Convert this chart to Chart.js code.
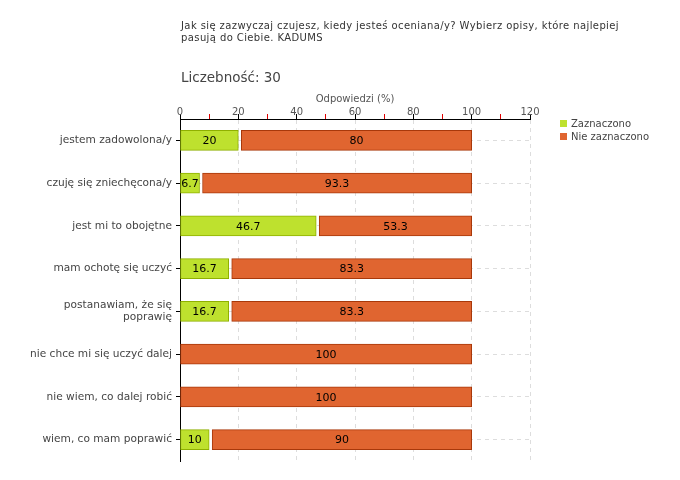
<!DOCTYPE html>
<html>
<head>
<meta charset="utf-8">
<script src="https://cdn.jsdelivr.net/npm/chart.js@4"></script>
<style>
body{margin:0;background:#fff}
#wrap{position:relative;width:680px;height:480px}
#title{position:absolute;left:181px;top:20px;width:480px;font:10px "DejaVu Sans";color:#333;line-height:12px;letter-spacing:0.4px}
#count{position:absolute;left:181px;top:69px;font:13.5px "DejaVu Sans";color:#444}
</style>
</head>
<body>
<div id="wrap">
  <canvas id="chart" width="680" height="480"></canvas>
  <div id="title">Jak się zazwyczaj czujesz, kiedy jesteś oceniana/y? Wybierz opisy, które najlepiej<br>pasują do Ciebie. KADUMS</div>
  <div id="count">Liczebność: 30</div>
</div>
<script>
var categories = [
  "jestem zadowolona/y",
  "czuję się zniechęcona/y",
  "jest mi to obojętne",
  "mam ochotę się uczyć",
  ["postanawiam, że się", "poprawię"],
  "nie chce mi się uczyć dalej",
  "nie wiem, co dalej robić",
  "wiem, co mam poprawić"
];
var seriesNames = ["Zaznaczono", "Nie zaznaczono"];
var zaznaczono = [20, 6.7, 46.7, 16.7, 16.7, 0, 0, 10];
var nieZaznaczono = [80, 93.3, 53.3, 83.3, 83.3, 100, 100, 90];
var axisTitle = "Odpowiedzi (%)";
var axisMax = 120;

// leave a small gap between the two stacked segments
var segmentGap = {
  id: 'segmentGap',
  afterDatasetsUpdate: function(chart){
    chart.getDatasetMeta(1).data.forEach(function(bar, i){
      if(zaznaczono[i] > 0) bar.base += 3;
    });
  }
};

var valueLabels = {
  id: 'valueLabels',
  afterDatasetsDraw: function(chart){
    var ctx = chart.ctx;
    ctx.save();
    ctx.font = '11px "DejaVu Sans"';
    ctx.fillStyle = '#000';
    ctx.textAlign = 'center';
    ctx.textBaseline = 'middle';
    chart.data.datasets.forEach(function(ds, di){
      chart.getDatasetMeta(di).data.forEach(function(bar, i){
        if(!ds.data[i]) return;
        ctx.fillText(String(ds.data[i]), (bar.x + bar.base)/2, bar.y + 1);
      });
    });
    ctx.restore();
  }
};

var sideLegend = {
  id: 'sideLegend',
  afterDraw: function(chart){
    var ctx = chart.ctx;
    var x = chart.chartArea.right + 30;
    var y = chart.chartArea.top + 4;
    ctx.save();
    ctx.font = '10px "DejaVu Sans"';
    ctx.textBaseline = 'middle';
    chart.data.datasets.forEach(function(ds, i){
      var cy = y + i*13;
      ctx.fillStyle = ds.backgroundColor;
      ctx.fillRect(x, cy - 3, 7, 7);
      ctx.fillStyle = '#444';
      ctx.fillText(ds.label, x + 11, cy + 1);
    });
    ctx.restore();
  }
};

var ctx = document.getElementById('chart').getContext('2d');
var chart = new Chart(ctx, {
  type: 'bar',
  data: {
    labels: categories,
    datasets: [
      {
        label: seriesNames[0],
        data: zaznaczono,
        backgroundColor: '#bee12e',
        borderColor: '#8fb000',
        borderWidth: 1,
        borderSkipped: false,
        barThickness: 20
      },
      {
        label: seriesNames[1],
        data: nieZaznaczono,
        backgroundColor: '#e06530',
        borderColor: '#a8380a',
        borderWidth: 1,
        borderSkipped: false,
        barThickness: 20
      }
    ]
  },
  options: {
    indexAxis: 'y',
    responsive: false,
    animation: false,
    layout: {padding: {top: 93, right: 150, bottom: 19, left: 0}},
    scales: {
      x: {
        position: 'top',
        stacked: true,
        min: 0,
        max: axisMax,
        ticks: {
          stepSize: 10,
          autoSkip: false,
          maxRotation: 0,
          color: '#555',
          font: {family: 'DejaVu Sans', size: 10},
          padding: -4,
          callback: function(v){ return v % 20 ? '' : v; }
        },
        grid: {
          color: function(c){ return c.tick && c.tick.value % 20 === 0 ? '#dddddd' : 'rgba(0,0,0,0)'; },
          tickColor: function(c){ return c.tick && c.tick.value % 20 ? '#e00000' : '#000'; },
          tickLength: 5
        },
        border: {color: '#000', dash: [4, 4]},
        title: {
          display: true,
          text: axisTitle,
          color: '#555',
          font: {family: 'DejaVu Sans', size: 10},
          padding: {top: 0, bottom: 5}
        }
      },
      y: {
        stacked: true,
        afterFit: function(scale){ scale.width = 180; },
        grid: {offset: false, color: '#dddddd', tickColor: '#000', tickLength: 4},
        border: {color: '#000', dash: [4, 4]},
        ticks: {color: '#444', font: {family: 'DejaVu Sans', size: 10.6}, padding: 4}
      }
    },
    plugins: {
      legend: {display: false},
      tooltip: {enabled: false}
    }
  },
  plugins: [segmentGap, valueLabels, sideLegend]
});
</script>
</body>
</html>
